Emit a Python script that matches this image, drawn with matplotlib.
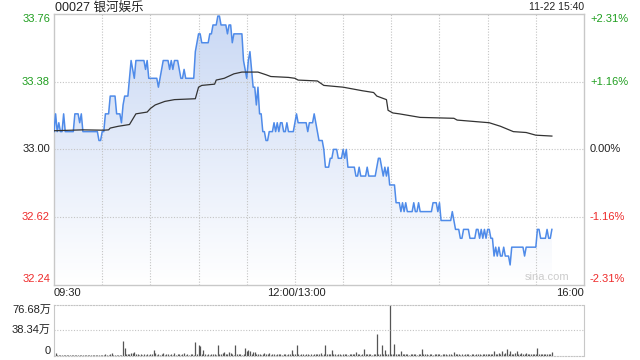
import matplotlib
matplotlib.use('Agg')
import matplotlib.pyplot as plt
import numpy as np
from matplotlib.colors import LinearSegmentedColormap

plt.rcParams['font.family'] = ['Liberation Sans', 'Noto Sans CJK SC', 'DejaVu Sans']

title = "00027 银河娱乐"
stamp = "11-22 15:40"
prev_close = 33.00
price_ticks = [33.76, 33.38, 33.00, 32.62, 32.24]
price_labels = ["33.76", "33.38", "33.00", "32.62", "32.24"]
pct_labels = ["+2.31%", "+1.16%", "0.00%", "-1.16%", "-2.31%"]
time_labels = ["09:30", "12:00/13:00", "16:00"]
vol_ticks = [76.68, 38.34, 0]
vol_labels = ["76.68万", "38.34万", "0"]

price = [
    33.10, 33.20, 33.10, 33.15, 33.10, 33.10, 33.20, 33.10, 33.10, 33.10,
    33.10, 33.10, 33.10, 33.20, 33.20, 33.20, 33.15, 33.20, 33.10, 33.10,
    33.10, 33.10, 33.10, 33.10, 33.10, 33.10, 33.10, 33.10, 33.05, 33.05,
    33.10, 33.10, 33.20, 33.20, 33.20, 33.30, 33.30, 33.30, 33.30, 33.20,
    33.20, 33.20, 33.15, 33.25, 33.30, 33.30, 33.30, 33.40, 33.50, 33.45,
    33.40, 33.50, 33.50, 33.50, 33.50, 33.50, 33.50, 33.45, 33.50, 33.40,
    33.40, 33.40, 33.40, 33.40, 33.40, 33.35, 33.40, 33.45, 33.50, 33.50,
    33.50, 33.50, 33.45, 33.50, 33.45, 33.50, 33.50, 33.50, 33.45, 33.40,
    33.40, 33.45, 33.40, 33.40, 33.40, 33.40, 33.40, 33.40, 33.55, 33.60,
    33.65, 33.65, 33.60, 33.60, 33.60, 33.60, 33.60, 33.65, 33.65, 33.70,
    33.70, 33.70, 33.75, 33.75, 33.70, 33.70, 33.70, 33.70, 33.65, 33.70,
    33.70, 33.60, 33.65, 33.65, 33.65, 33.65, 33.65, 33.65, 33.50, 33.45,
    33.40, 33.50, 33.55, 33.45, 33.35, 33.35, 33.25, 33.35, 33.20, 33.20,
    33.10, 33.10, 33.05, 33.05, 33.10, 33.10, 33.10, 33.15, 33.10, 33.15,
    33.10, 33.15, 33.15, 33.10, 33.10, 33.15, 33.10, 33.10, 33.10, 33.10,
    33.15, 33.20, 33.15, 33.15, 33.15, 33.15, 33.15, 33.15, 33.10, 33.15,
    33.15, 33.15, 33.20, 33.15, 33.10, 33.05, 33.05, 33.05, 33.00, 32.90,
    32.90, 32.90, 32.95, 32.95, 33.00, 33.00, 33.00, 32.95, 32.95, 32.95,
    33.00, 32.95, 33.00, 32.90, 32.90, 32.90, 32.90, 32.90, 32.85, 32.85,
    32.90, 32.85, 32.85, 32.85, 32.85, 32.90, 32.85, 32.85, 32.85, 32.85,
    32.85, 32.90, 32.95, 32.95, 32.90, 32.85, 32.90, 32.85, 32.90, 32.80,
    32.80, 32.80, 32.80, 32.70, 32.70, 32.70, 32.65, 32.70, 32.65, 32.70,
    32.65, 32.65, 32.65, 32.65, 32.70, 32.65, 32.65, 32.70, 32.65, 32.65,
    32.65, 32.65, 32.65, 32.65, 32.65, 32.65, 32.70, 32.70, 32.70, 32.65,
    32.70, 32.60, 32.60, 32.60, 32.60, 32.60, 32.60, 32.60, 32.65, 32.60,
    32.55, 32.55, 32.55, 32.50, 32.50, 32.55, 32.55, 32.55, 32.55, 32.50,
    32.50, 32.50, 32.50, 32.55, 32.55, 32.50, 32.55, 32.50, 32.55, 32.50,
    32.55, 32.55, 32.50, 32.50, 32.40, 32.45, 32.40, 32.45, 32.40, 32.40,
    32.45, 32.40, 32.40, 32.40, 32.35, 32.45, 32.45, 32.45, 32.45, 32.45,
    32.45, 32.45, 32.45, 32.40, 32.45, 32.45, 32.45, 32.45, 32.45, 32.45,
    32.45, 32.55, 32.55, 32.50, 32.50, 32.50, 32.50, 32.55, 32.50, 32.50,
    32.55,
]

avg_minutes = [0, 18, 31, 34, 35, 40, 47, 48, 51, 58, 60, 63, 69, 75, 88, 90,
               92, 100, 101, 106, 112, 117, 127, 132, 135, 146, 150, 152, 164,
               168, 180, 186, 192, 199, 201, 207, 208, 211, 215, 228, 249, 251,
               271, 278, 286, 294, 300, 310]
avg_values = [33.105, 33.11, 33.108, 33.11, 33.12, 33.13, 33.14, 33.155, 33.20,
              33.21, 33.23, 33.25, 33.27, 33.28, 33.285, 33.35, 33.36, 33.367,
              33.39, 33.40, 33.425, 33.435, 33.435, 33.42, 33.41, 33.405, 33.40,
              33.39, 33.385, 33.36, 33.35, 33.34, 33.33, 33.32, 33.30, 33.28,
              33.22, 33.205, 33.20, 33.18, 33.175, 33.165, 33.15, 33.13, 33.10,
              33.095, 33.08, 33.075]

volume = [
    1.2, 3.3, 1.0, 0.8, 1.1, 0.9, 1.3, 0.8, 1.0, 0.7,
    0.9, 1.1, 0.8, 1.4, 1.0, 0.9, 1.2, 0.8, 1.1, 0.9,
    0.8, 1.0, 1.2, 0.9, 0.7, 1.1, 0.8, 1.0, 1.5, 0.9,
    1.1, 0.8, 1.6, 1.2, 1.0, 2.0, 4.4, 1.3, 1.1, 1.4,
    1.2, 1.0, 1.5, 22.0, 11.6, 1.8, 2.2, 2.6, 4.4, 4.4,
    5.5, 2.0, 1.6, 1.2, 2.4, 1.3, 1.8, 1.5, 2.2, 1.4,
    1.6, 1.9, 8.3, 4.4, 1.5, 2.5, 1.2, 1.8, 4.4, 1.3,
    1.6, 2.2, 1.4, 1.8, 1.5, 3.3, 1.2, 1.6, 2.0, 1.3,
    1.7, 3.3, 1.4, 1.9, 1.2, 1.6, 2.1, 1.5, 19.9, 2.4,
    15.5, 14.4, 2.2, 8.9, 1.8, 1.5, 2.0, 1.4, 1.8, 1.6,
    2.1, 1.5, 15.5, 2.0, 1.7, 4.4, 5.5, 2.2, 1.6, 5.5,
    4.4, 1.8, 1.5, 15.5, 2.3, 1.7, 2.0, 1.4, 2.6, 11.0,
    7.2, 8.9, 7.2, 2.5, 5.5, 5.5, 2.0, 1.6, 2.2, 1.5,
    1.8, 3.3, 1.6, 2.0, 4.4, 1.5, 1.9, 2.3, 1.4, 1.8,
    1.6, 2.1, 1.4, 1.9, 2.4, 1.5, 1.7, 2.0, 8.3, 1.6,
    2.2, 15.5, 1.8, 1.5, 2.0, 1.6, 1.4, 2.2, 1.7, 1.5,
    2.0, 1.4, 1.8, 2.4, 1.6, 1.9, 3.3, 1.5, 2.2, 16.6,
    2.4, 1.8, 2.0, 8.9, 1.6, 2.1, 1.5, 1.8, 2.3, 1.4,
    1.9, 1.6, 2.2, 1.5, 1.8, 2.4, 1.6, 2.0, 5.5, 1.7,
    2.1, 1.5, 2.6, 10.0, 1.8, 2.0, 1.6, 2.3, 1.5, 1.9,
    2.2, 32.0, 2.5, 1.8, 15.5, 2.4, 8.9, 2.0, 2.6, 76.68,
    3.0, 2.2, 18.0, 2.6, 2.0, 2.4, 7.2, 1.8, 2.2, 1.6,
    2.0, 1.5, 1.8, 2.3, 1.6, 2.0, 1.4, 2.4, 1.8, 10.0,
    2.2, 1.6, 1.9, 1.5, 2.1, 1.7, 1.4, 2.0, 1.6, 1.8,
    2.2, 1.5, 1.8, 1.6, 2.0, 1.4, 1.7, 2.1, 1.5, 5.5,
    1.8, 1.6, 2.0, 1.5, 1.8, 1.4, 2.2, 1.6, 1.9, 1.5,
    1.7, 2.0, 1.4, 1.8, 1.6, 2.2, 1.5, 1.9, 1.6, 2.0,
    1.8, 2.4, 1.6, 2.0, 7.2, 2.6, 3.0, 4.2, 1.8, 7.2,
    2.4, 3.4, 10.0, 2.2, 7.2, 2.0, 2.6, 4.4, 7.2, 2.0,
    2.4, 3.2, 1.8, 2.2, 4.4, 1.6, 2.0, 1.8, 2.4, 2.2,
    1.9, 11.6, 2.0, 2.4, 1.8, 2.6, 2.2, 1.9, 2.3, 2.0,
    5.5,
]

W, H = 640, 360
GREEN = '#1f9e1f'
RED = '#ee2b2b'
BORDER = '#c8c8c8'
GRID = '#c4c4c4'


def rect(l, t, r, b):
    return [l / W, 1 - b / H, (r - l) / W, (b - t) / H]


fig = plt.figure(figsize=(6.4, 3.6), dpi=100)
fig.patch.set_facecolor('white')
ax = fig.add_axes(rect(54, 14.3, 584, 284.5))
axv = fig.add_axes(rect(54, 304.7, 584, 355.5))

x = np.arange(len(price))
ymin, ymax = price_ticks[-1], price_ticks[0]

# gradient fill under price line
poly = ax.fill_between(x, price, ymin, color='none', lw=0)
grad = np.linspace(1, 0, 256).reshape(-1, 1)
cmap = LinearSegmentedColormap.from_list('g', ['#ffffff', '#c9d8f4'])
im = ax.imshow(grad, extent=[0, 330, ymin, ymax], aspect='auto', cmap=cmap,
               origin='upper', zorder=1, interpolation='bilinear')
im.set_clip_path(poly.get_paths()[0], transform=ax.transData)

# grid
for m in range(30, 330, 30):
    ax.axvline(m, color=GRID, ls=(0, (1, 1.5)), lw=0.8, zorder=1.5)
for v in price_ticks[1:-1]:
    ax.axhline(v, color=GRID, ls=(0, (1, 1.5)), lw=0.8, zorder=1.5)

ax.plot(x, price, color='#4f8be9', lw=1.1, zorder=3)
ax.plot(avg_minutes, avg_values, color='#333333', lw=0.9, zorder=3)

ax.set_xlim(0, 330)
ax.set_ylim(ymin, ymax)
ax.set_xticks([])
ax.set_yticks([])
for s in ax.spines.values():
    s.set_color(BORDER)
    s.set_linewidth(1)

ytr = ax.get_yaxis_transform()
for i, (v, lab, pl) in enumerate(zip(price_ticks, price_labels, pct_labels)):
    if v > prev_close:
        c = GREEN
    elif v < prev_close:
        c = RED
    else:
        c = '#222222'
    va = 'top' if i == 0 else ('bottom' if i == len(price_ticks) - 1 else 'center')
    ax.text(-4 / 530, v, lab, transform=ytr, ha='right', va=va, fontsize=8, color=c)
    ax.text(1 + 6 / 530, v, pl, transform=ytr, ha='left', va=va, fontsize=8, color=c)

ax.text(0.93, 0.01, 'sina.com', transform=ax.transAxes, ha='center', va='bottom',
        fontsize=8, color='#cccccc')

# titles
fig.text(55 / W, 1 - 7.5 / H, title, ha='left', va='center', fontsize=9, color='#222222')
fig.text(584 / W, 1 - 7.5 / H, stamp, ha='right', va='center', fontsize=7.5, color='#222222')

# time labels
fig.text(54 / W, 1 - 293 / H, time_labels[0], ha='left', va='center', fontsize=8, color='#222222')
fig.text(296 / W, 1 - 293 / H, time_labels[1], ha='center', va='center', fontsize=8, color='#222222')
fig.text(584 / W, 1 - 293 / H, time_labels[2], ha='right', va='center', fontsize=8, color='#222222')

# volume panel
axv.vlines(x, 0, volume, color='#555555', lw=0.9)
axv.axhline(vol_ticks[1], color=GRID, ls=(0, (1, 1.5)), lw=0.8)
axv.set_xlim(0, 330)
axv.set_ylim(0, vol_ticks[0])
axv.set_xticks([])
axv.set_yticks([])
for k in ['left', 'right']:
    axv.spines[k].set_color(BORDER)
axv.spines['top'].set_color(GRID)
axv.spines['top'].set_linestyle((0, (1, 1.5)))
axv.spines['bottom'].set_color(GRID)
axv.spines['bottom'].set_linestyle((0, (1, 1.5)))
vtr = axv.get_yaxis_transform()
for i, (v, lab) in enumerate(zip(vol_ticks, vol_labels)):
    va = 'top' if i == 0 else ('bottom' if i == len(vol_ticks) - 1 else 'center')
    axv.text(-3 / 530, v, lab, transform=vtr, ha='right', va=va, fontsize=8, color='#222222')

fig.savefig('out.png', dpi=100)
